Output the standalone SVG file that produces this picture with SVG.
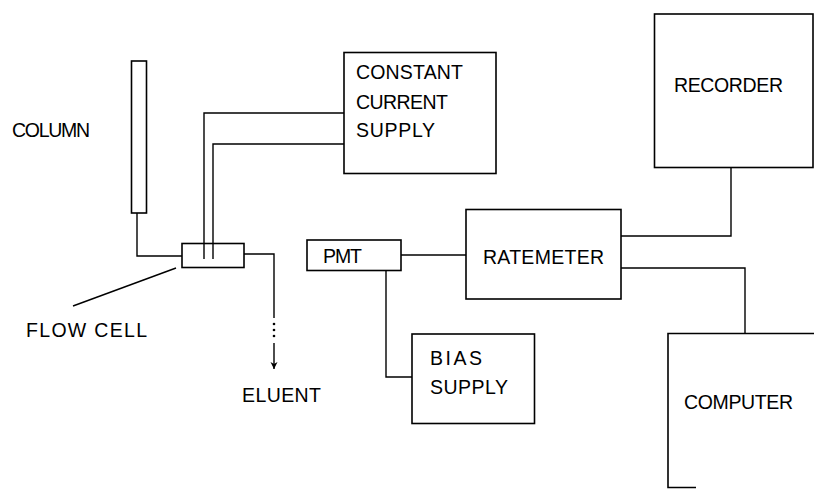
<svg xmlns="http://www.w3.org/2000/svg" width="814" height="489" viewBox="0 0 814 489">
<style>
.box{fill:none;stroke:#000;stroke-width:1.6}
.ln{fill:none;stroke:#000;stroke-width:1.4}
text{font-family:"Liberation Sans",Arial,sans-serif;font-size:19.5px;fill:#000}
</style>
<defs>
<marker id="arr" markerWidth="8" markerHeight="8" refX="7" refY="4" orient="auto" markerUnits="userSpaceOnUse">
<path d="M0,0.5 L7,4 L0,7.5 L2,4 Z" fill="#000"/>
</marker>
</defs>
<rect width="814" height="489" fill="#fff"/>
<g id="connectors">
<path class="ln" d="M137,213 V256 H182"/>
<path class="ln" d="M204,259 V113 H344"/>
<path class="ln" d="M213,259 V144 H344"/>
<path class="ln" d="M244,254 H274 V318"/>
<circle cx="274" cy="324" r="1.3" fill="#000"/>
<circle cx="274" cy="330" r="1.3" fill="#000"/>
<circle cx="274" cy="336" r="1.3" fill="#000"/>
<path class="ln" d="M274,343 V369" marker-end="url(#arr)"/>
<path class="ln" d="M176,268 L73,306"/>
<path class="ln" d="M401,255 H466"/>
<path class="ln" d="M386,270 V377 H412"/>
<path class="ln" d="M731,168 V236 H621"/>
<path class="ln" d="M621,268 H745 V333"/>
</g>
<g id="column"><rect class="box" x="131.5" y="61" width="15" height="152"/><text x="12" y="137" textLength="78">COLUMN</text></g>
<g id="flowcell"><rect class="box" x="182" y="243.5" width="62" height="24"/><text x="26" y="337" textLength="121">FLOW CELL</text></g>
<g id="eluent"><text x="242" y="402" textLength="79">ELUENT</text></g>
<g id="constant-current-supply"><rect class="box" x="344" y="52.5" width="152" height="121"/><text x="356" y="79" textLength="107">CONSTANT</text><text x="356" y="109" textLength="92">CURRENT</text><text x="356" y="137" textLength="79">SUPPLY</text></g>
<g id="pmt"><rect class="box" x="307" y="240" width="94" height="30.5"/><text x="323" y="263" textLength="39">PMT</text></g>
<g id="bias-supply"><rect class="box" x="412" y="334" width="122.5" height="89.5"/><text x="430" y="365" textLength="52">BIAS</text><text x="430" y="394" textLength="78">SUPPLY</text></g>
<g id="ratemeter"><rect class="box" x="466" y="209.5" width="155" height="89.5"/><text x="483" y="264" textLength="121">RATEMETER</text></g>
<g id="recorder"><rect class="box" x="654.5" y="14" width="158.5" height="153.5"/><text x="674" y="92" textLength="109">RECORDER</text></g>
<g id="computer"><path class="box" d="M816,333.5 H668 V487.5 H696"/><text x="684" y="409" textLength="109">COMPUTER</text></g>
</svg>
